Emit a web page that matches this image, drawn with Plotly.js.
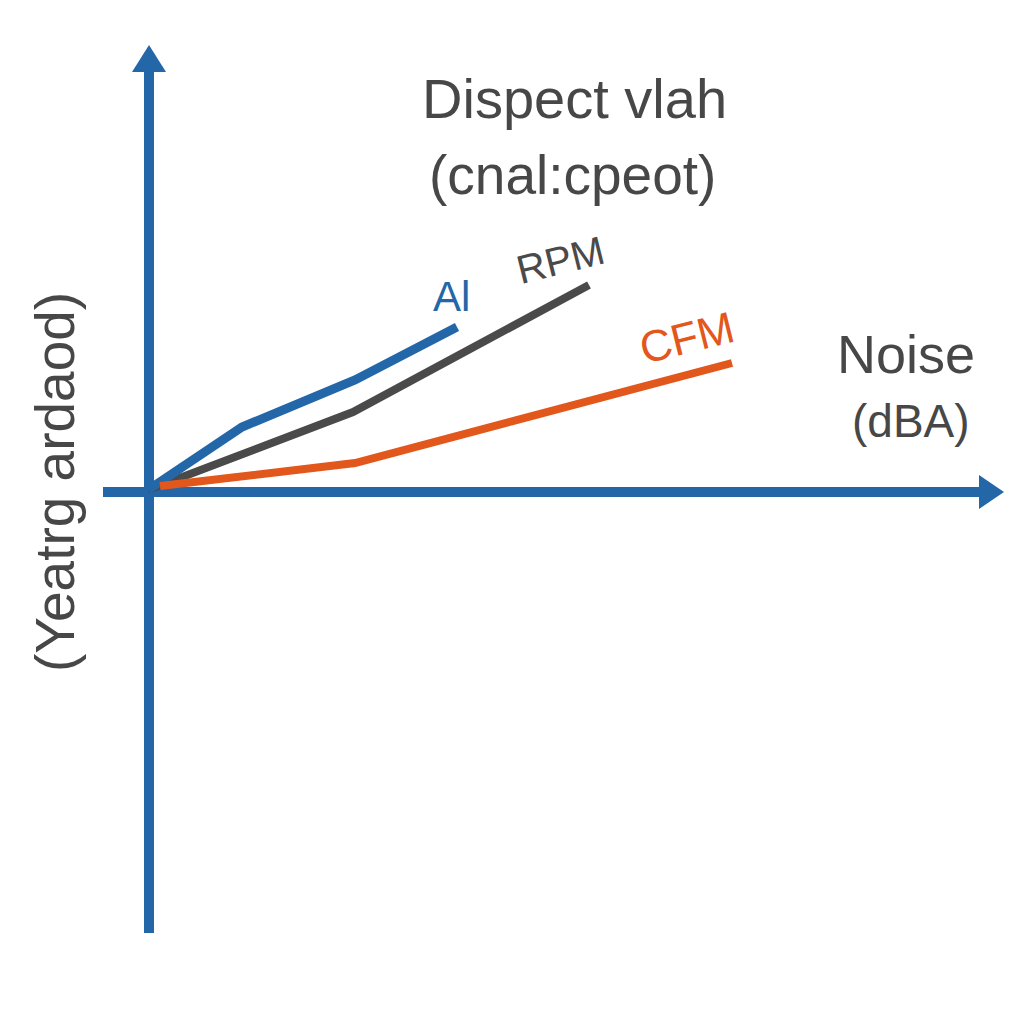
<!DOCTYPE html>
<html>
<head>
<meta charset="utf-8">
<script src="https://cdn.plot.ly/plotly-3.0.1.min.js"></script>
<style>html,body{margin:0;padding:0;background:#fff;}#chart{width:1024px;height:1024px;}</style>
</head>
<body>
<div id="chart"></div>
<script>
// ---- data (arbitrary units, origin at axis crossing)
const seriesNames = ['Al', 'RPM', 'CFM'];
const alX = [0, 0.94, 2.07, 3.09];
const alY = [0, 0.63, 1.10, 1.63];
const rpmX = [0, 2.05, 4.41];
const rpmY = [0, 0.78, 2.05];
const cfmX = [0.12, 2.07, 5.84];
const cfmY = [0.04, 0.27, 1.27];

const titleLines = ['Dispect vlah', '(cnal:cpeot)'];
const xLabelLines = ['Noise', '(dBA)'];
const yLabel = '(Yeatrg ardaod)';

const BLUE = '#2367a8', GRAY = '#4a4a4a', ORANGE = '#e2571c', TEXT = '#474747';
const FONT = '"Liberation Sans Narrow", "Liberation Sans", sans-serif';

const traces = [
  {x: rpmX, y: rpmY, name: seriesNames[1], mode: 'lines', line: {color: GRAY, width: 8}},
  {x: alX, y: alY, name: seriesNames[0], mode: 'lines', line: {color: BLUE, width: 9}},
  {x: cfmX, y: cfmY, name: seriesNames[2], mode: 'lines', line: {color: ORANGE, width: 8}}
];

function px(x){return x/1024;}
function py(y){return 1 - y/1024;}

const annotations = [
  {text: titleLines[0], x: px(574), y: py(98), font: {size: 56, color: TEXT, family: FONT}},
  {text: titleLines[1], x: px(572), y: py(175), font: {size: 55, color: TEXT, family: FONT}},
  {text: xLabelLines[0], x: px(906), y: py(354), font: {size: 54, color: TEXT, family: FONT}},
  {text: xLabelLines[1], x: px(911), y: py(421), font: {size: 46, color: TEXT, family: FONT}},
  {text: yLabel, x: px(55), y: py(482), textangle: -90, font: {size: 55, color: TEXT, family: FONT}},
  {text: seriesNames[0], x: px(451), y: py(296), font: {size: 42, color: BLUE, family: FONT}},
  {text: seriesNames[1], x: px(560), y: py(260), textangle: -14, font: {size: 40, color: GRAY, family: FONT}},
  {text: seriesNames[2], x: px(686), y: py(337), textangle: -14, font: {size: 44, color: ORANGE, family: FONT}}
].map(a => Object.assign({xref: 'paper', yref: 'paper', showarrow: false, xanchor: 'center', yanchor: 'middle'}, a));

const shapes = [
  {type: 'line', x0: 0.01, x1: 0.01, y0: -4.43, y1: 4.22, line: {color: BLUE, width: 10}, layer: 'below'},
  {type: 'path', path: 'M -0.16 4.18 L 0.18 4.18 L 0.01 4.45 Z', fillcolor: BLUE, line: {width: 0}, layer: 'below'},
  {type: 'line', x0: -0.45, x1: 8.35, y0: -0.02, y1: -0.02, line: {color: BLUE, width: 10}, layer: 'below'},
  {type: 'path', path: 'M 8.31 0.15 L 8.31 -0.19 L 8.56 -0.02 Z', fillcolor: BLUE, line: {width: 0}, layer: 'below'}
].map(s => Object.assign({xref: 'x', yref: 'y'}, s));

const axisCommon = {showgrid: false, zeroline: false, showticklabels: false, ticks: '', showline: false, fixedrange: true};

const layout = {
  width: 1024, height: 1024,
  margin: {l: 0, r: 0, t: 0, b: 0},
  paper_bgcolor: '#ffffff', plot_bgcolor: '#ffffff',
  showlegend: false,
  xaxis: Object.assign({range: [-1.48, 8.76]}, axisCommon),
  yaxis: Object.assign({range: [-5.34, 4.90]}, axisCommon),
  annotations: annotations,
  shapes: shapes
};

Plotly.newPlot('chart', traces, layout, {displayModeBar: false, staticPlot: true});
</script>
</body>
</html>
